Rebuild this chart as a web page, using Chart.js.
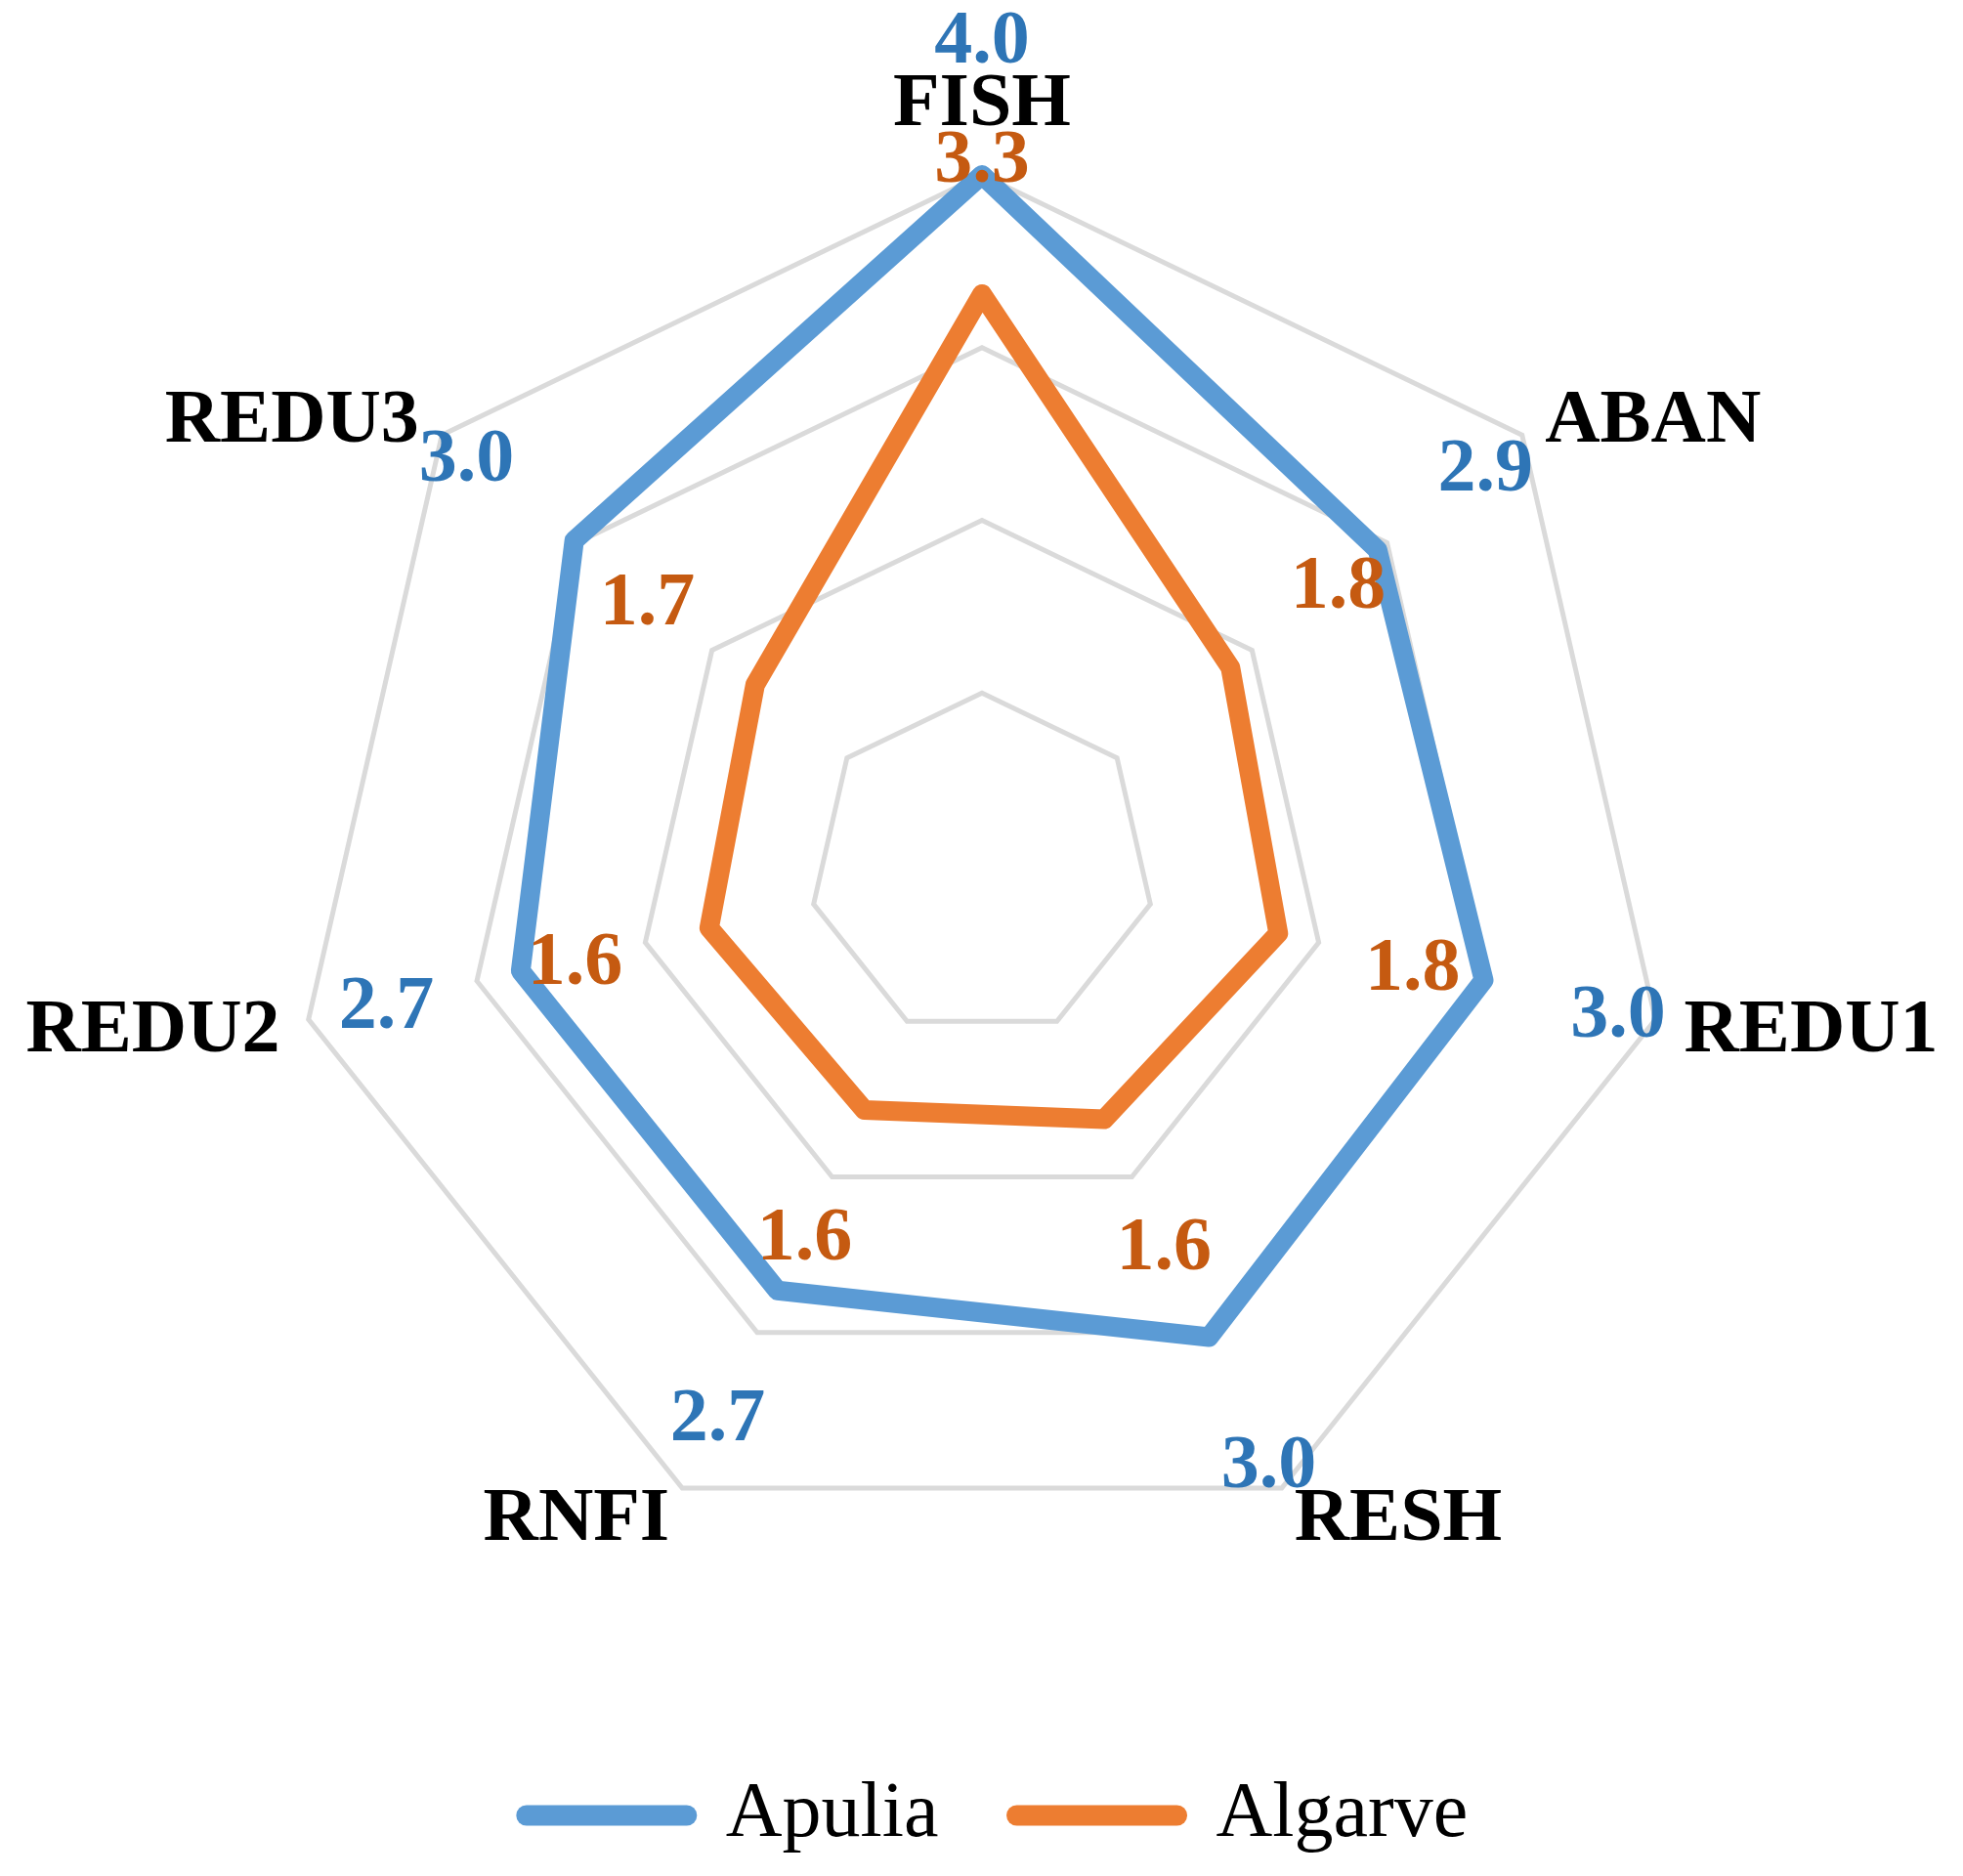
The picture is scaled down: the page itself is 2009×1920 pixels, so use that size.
<!DOCTYPE html>
<html>
<head>
<meta charset="utf-8">
<script src="https://cdn.jsdelivr.net/npm/chart.js@4.4.1/dist/chart.umd.min.js"></script>
<style>
html,body{margin:0;padding:0;background:#ffffff;overflow:hidden}
#wrap{width:2009px;height:1920px;position:relative}
</style>
</head>
<body>
<div id="wrap"><canvas id="c" width="2009" height="1920"></canvas></div>
<script>
// ---- data ----
const categories = ['FISH', 'ABAN', 'REDU1', 'RESH', 'RNFI', 'REDU2', 'REDU3'];
const seriesNames = ['Apulia', 'Algarve'];
const apuliaValues = [4.0, 2.93, 2.98, 3.03, 2.73, 2.74, 3.02];
const algarveValues = [3.31, 1.84, 1.76, 1.63, 1.57, 1.62, 1.68];
const radialTicks = [0, 1, 2, 3, 4];

// ---- styling / layout constants ----
const FONT_FAMILY = "'Times New Roman', 'Liberation Serif', 'DejaVu Serif', serif";
const LINE_COLORS = ['#5B9BD5', '#ED7D31'];
const LABEL_COLORS = ['#2E75B6', '#C55A11'];
const CENTER_X = 1005, CENTER_Y = 886, RADIUS = 707;
const CAT_FONT = 78, VAL_FONT = 78;
const CAT_GAP = 30, VAL_GAP = 141;

const labelPlugin = {
  id: 'radarLabels',
  afterDatasetsDraw(chart) {
    const ctx = chart.ctx;
    const scale = chart.scales.r;
    ctx.save();
    // category labels
    ctx.font = 'bold ' + CAT_FONT + 'px ' + FONT_FAMILY;
    ctx.fillStyle = '#000000';
    ctx.textBaseline = 'alphabetic';
    const outer = scale.getDistanceFromCenterForValue(scale.max);
    categories.forEach((cat, i) => {
      const p = scale.getPointPosition(i, outer + CAT_GAP);
      const ang = scale.getIndexAngle(i);
      const s = Math.sin(ang);
      let cy = p.y;
      if (Math.abs(s) < 0.01) {
        ctx.textAlign = 'center';
        cy = p.y - CAT_FONT * 0.6;
      } else if (s > 0) {
        ctx.textAlign = 'left';
      } else {
        ctx.textAlign = 'right';
      }
      ctx.fillText(cat, p.x, cy + CAT_FONT * 0.331);
    });
    // value labels
    ctx.font = 'bold ' + VAL_FONT + 'px ' + FONT_FAMILY;
    ctx.textAlign = 'center';
    chart.data.datasets.forEach((ds, di) => {
      ctx.fillStyle = LABEL_COLORS[di];
      ds.data.forEach((v, i) => {
        const p = scale.getPointPosition(i, scale.getDistanceFromCenterForValue(v) + VAL_GAP);
        ctx.fillText(v.toFixed(1), p.x, p.y + VAL_FONT * 0.338);
      });
    });
    ctx.restore();
  }
};

const seriesValues = [apuliaValues, algarveValues];
const datasets = seriesNames.map((name, i) => ({
  label: name,
  data: seriesValues[i],
  borderColor: LINE_COLORS[i],
  backgroundColor: 'rgba(0,0,0,0)',
  fill: false,
  borderWidth: 20,
  borderJoinStyle: 'round',
  borderCapStyle: 'round',
  pointRadius: 0,
  pointHoverRadius: 0,
  tension: 0
}));

new Chart(document.getElementById('c'), {
  type: 'radar',
  data: { labels: categories, datasets: datasets },
  options: {
    responsive: false,
    animation: false,
    events: [],
    layout: { padding: { bottom: 12, left: 32 } },
    scales: {
      r: {
        min: 0,
        max: 4,
        ticks: { display: false, stepSize: 1 },
        afterBuildTicks: (s) => { s.ticks = radialTicks.map(v => ({ value: v })); },
        grid: { color: '#DADADA', lineWidth: 5, circular: false },
        angleLines: { display: false },
        pointLabels: { display: false },
        afterFit: (s) => { s.xCenter = CENTER_X; s.yCenter = CENTER_Y; s.drawingArea = RADIUS; }
      }
    },
    plugins: {
      tooltip: { enabled: false },
      legend: {
        position: 'bottom',
        labels: {
          usePointStyle: true,
          pointStyle: 'line',
          pointStyleWidth: 164,
          padding: 80,
          color: '#000000',
          font: { family: FONT_FAMILY, size: 80 },
          generateLabels: (chart) => chart.data.datasets.map((ds, i) => ({
            text: ds.label,
            fillStyle: ds.borderColor,
            strokeStyle: ds.borderColor,
            fontColor: '#000000',
            lineWidth: 21,
            lineCap: 'round',
            lineJoin: 'round',
            pointStyle: 'line',
            hidden: false,
            datasetIndex: i
          }))
        }
      }
    }
  },
  plugins: [labelPlugin]
});
</script>
</body>
</html>
